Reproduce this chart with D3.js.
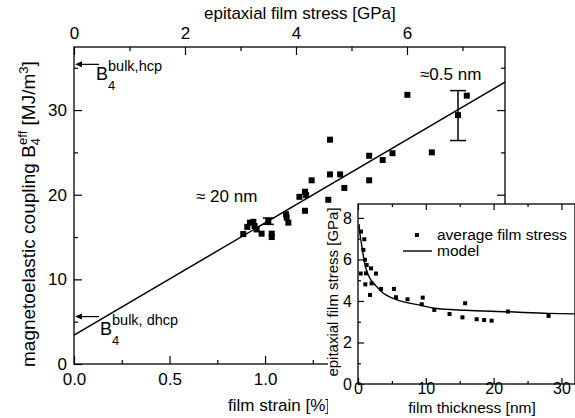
<!DOCTYPE html>
<html lang="en">
<head>
<meta charset="UTF-8">
<title>magnetoelastic coupling vs film strain</title>
<script src="https://cdn.jsdelivr.net/npm/d3@7"></script>
<style>
  body { margin: 0; background: #fff; }
  text { font-family: "Liberation Sans", Arial, Helvetica, sans-serif; fill: #000; }
</style>
</head>
<body>
<div id="graph"></div>
<script>
    // main panel: film strain [%] -> B4eff [MJ/m3]
    var strain   = [0.886, 0.907, 0.921, 0.939, 0.945, 0.956, 0.982, 1.035, 1.035, 1.110,
                    1.113, 1.122, 1.180, 1.209, 1.215, 1.209, 1.244, 1.331, 1.340, 1.340,
                    1.393, 1.415, 1.545, 1.545, 1.616, 1.667, 1.745, 1.873, 2.010, 2.056, 1.017];
    var coupling = [15.35, 16.2, 16.7, 16.8, 16.3, 15.9, 15.4, 15.4, 15.0, 17.7,
                    17.3, 16.7, 19.75, 20.35, 19.95, 18.1, 21.7, 19.4, 26.5, 22.4,
                    22.4, 20.8, 24.6, 21.7, 24.1, 24.9, 31.8, 25.0, 29.4, 31.7, 16.9];

    // error bars (≈20 nm and ≈0.5 nm)
    var errStrain = [1.017, 2.010];
    var errLow    = [16.5, 26.4];
    var errHigh   = [17.25, 32.3];
    var errText   = ["≈ 20 nm", "≈0.5 nm"];

    // linear fit, end points
    var fitStrain = [0, 2.256];
    var fitB      = [3.42, 33.3];

    // bulk values (arrows)
    var bulkB     = [35.4, 5.6];
    var bulkSup   = ["bulk,hcp", "bulk, dhcp"];

    // bottom ticks past 1.0 sit under the inset
    var strainTicks   = [0, 0.5, 1.0];
    var strainMinor   = [0.25, 0.75, 1.25];
    var gpaTicks      = [0, 2, 4, 6];
    var gpaMinor      = [1, 3, 5, 7];
    var couplingTicks = [0, 10, 20, 30];
    var couplingMinor = [5, 15, 25, 35];

    // inset: film thickness [nm] -> epitaxial film stress [GPa]
    var thick  = [0.44, 0.93, 0.79, 1.03, 1.28, 0.40, 1.18, 1.92, 2.65, 1.08,
                  2.00, 1.77, 3.40, 5.30, 5.60, 7.30, 9.54, 9.40, 11.25, 13.5,
                  15.8, 15.4, 17.5, 18.6, 19.7, 22.1, 28.1];
    var stress = [7.34, 6.97, 6.46, 5.98, 5.73, 5.32, 5.33, 5.57, 5.32, 4.80,
                  4.85, 4.29, 4.58, 4.58, 4.18, 4.08, 4.16, 3.84, 3.57, 3.37,
                  3.89, 3.21, 3.12, 3.08, 3.05, 3.49, 3.28];
    var modelThick  = [0.15, 0.3, 0.54, 0.8, 1.03, 1.4, 1.77, 2.3, 2.75, 3.74, 5, 7, 9.1, 11.3, 15.8, 22.1, 28.1, 32];
    var modelStress = [7.7, 7.2, 6.7, 6.15, 5.75, 5.35, 5.09, 4.85, 4.69, 4.37, 4.15, 3.93, 3.8, 3.65, 3.55, 3.48, 3.4, 3.38];

    var thickTicks  = [0, 10, 20, 30];
    var thickMinor  = [5, 15, 25];
    var insetTicks  = [0, 2, 4, 6, 8];
    var insetMinor  = [1, 3, 5, 7];

    var W = 575, H = 418;
    var svg = d3.select("#graph").append("svg").attr("width", W).attr("height", H);

    // ---------- main panel ----------
    var L = 74, R = 505, T = 47, B = 364;
    var x  = d3.scaleLinear().domain([0, 2.256]).range([L, R]);
    var xs = d3.scaleLinear().domain([0, 7.766]).range([L, R]);
    var y  = d3.scaleLinear().domain([0, 37.45]).range([B, T]);

    function ticks(axis, g, vals, size, pad, fmt) {
        g.call(axis.tickValues(vals).tickSize(-size).tickPadding(pad).tickFormat(fmt));
        g.select(".domain").remove();
        g.selectAll("line").attr("stroke", "#000").attr("stroke-width", 1.2);
        g.selectAll("text").attr("font-family", null).style("font-size", "17px").attr("fill", "#000");
        return g;
    }

    ticks(d3.axisBottom(x), svg.append("g").attr("transform", "translate(0," + B + ")"), strainTicks, 8, 9, d3.format(".1f"));
    ticks(d3.axisBottom(x), svg.append("g").attr("transform", "translate(0," + B + ")"), strainMinor, 4, 9, "");
    ticks(d3.axisTop(xs), svg.append("g").attr("transform", "translate(0," + T + ")"), gpaTicks, 8, 8, d3.format("d"));
    ticks(d3.axisTop(xs), svg.append("g").attr("transform", "translate(0," + T + ")"), gpaMinor, 4, 8, "");
    ticks(d3.axisLeft(y), svg.append("g").attr("transform", "translate(" + L + ",0)"), couplingTicks, 8, 7, d3.format("d"));
    ticks(d3.axisLeft(y), svg.append("g").attr("transform", "translate(" + L + ",0)"), couplingMinor, 4, 7, "");
    ticks(d3.axisRight(y), svg.append("g").attr("transform", "translate(" + R + ",0)"), couplingTicks, 8, 7, "");
    ticks(d3.axisRight(y), svg.append("g").attr("transform", "translate(" + R + ",0)"), couplingMinor, 4, 7, "");

    svg.append("rect").attr("x", L).attr("y", T).attr("width", R - L).attr("height", B - T)
        .attr("fill", "none").attr("stroke", "#000").attr("stroke-width", 1.3);

    // fit line
    var fitLine = d3.line().x(function(d) { return x(d[0]); }).y(function(d) { return y(d[1]); });
    svg.append("path")
        .attr("d", fitLine(fitStrain.map(function(s, i) { return [s, fitB[i]]; })))
        .attr("fill", "none").attr("stroke", "#000").attr("stroke-width", 1.5);

    // points
    svg.selectAll("rect.pt").data(strain).enter().append("rect")
        .attr("class", "pt")
        .attr("x", function(d) { return x(d) - 3; })
        .attr("y", function(d, i) { return y(coupling[i]) - 3; })
        .attr("width", 6).attr("height", 6).attr("fill", "#000");

    // error bars
    var capW = [11, 16];
    errStrain.forEach(function(s, i) {
        var g = svg.append("g").attr("stroke", "#000").attr("stroke-width", 1.5);
        g.append("line").attr("x1", x(s)).attr("x2", x(s)).attr("y1", y(errLow[i])).attr("y2", y(errHigh[i]));
        g.append("line").attr("x1", x(s) - capW[i] / 2).attr("x2", x(s) + capW[i] / 2).attr("y1", y(errLow[i])).attr("y2", y(errLow[i]));
        g.append("line").attr("x1", x(s) - capW[i] / 2).attr("x2", x(s) + capW[i] / 2).attr("y1", y(errHigh[i])).attr("y2", y(errHigh[i]));
    });
    svg.append("text").attr("x", 196).attr("y", 202).style("font-size", "17px").text(errText[0]);
    svg.append("text").attr("x", 420).attr("y", 80).style("font-size", "17px").text(errText[1]);

    // bulk arrows + labels
    var labY = [[80, 90, 71], [335, 345, 325]];
    bulkB.forEach(function(b, i) {
        var yy = y(b);
        svg.append("line").attr("x1", L + 5).attr("x2", L + 25).attr("y1", yy).attr("y2", yy)
            .attr("stroke", "#000").attr("stroke-width", 1.2);
        svg.append("path").attr("d", "M" + (L + 1) + "," + yy + "L" + (L + 8) + "," + (yy - 3) + "L" + (L + 8) + "," + (yy + 3) + "Z")
            .attr("fill", "#000");
        var bx = i == 0 ? 96 : 100;
        svg.append("text").attr("x", bx).attr("y", labY[i][0]).style("font-size", "18px").text("B");
        svg.append("text").attr("x", bx + 12).attr("y", labY[i][1]).style("font-size", "13px").text("4");
        svg.append("text").attr("x", bx + 12).attr("y", labY[i][2]).style("font-size", "14.5px").text(bulkSup[i]);
    });

    // axis titles
    svg.append("text").attr("x", 204).attr("y", 18.5).style("font-size", "17px").text("epitaxial film stress [GPa]");
    svg.append("text").attr("x", 228).attr("y", 411).style("font-size", "17px").text("film strain [%]");

    var ylab = svg.append("text").attr("transform", "translate(35,367) rotate(-90)").style("font-size", "19px");
    ylab.append("tspan").text("magnetoelastic coupling B");
    ylab.append("tspan").attr("dy", 5).style("font-size", "13px").text("4");
    ylab.append("tspan").attr("dx", -7).attr("dy", -13).style("font-size", "13px").text("eff");
    ylab.append("tspan").attr("dy", 8).text(" [MJ/m");
    ylab.append("tspan").attr("dy", -7).style("font-size", "13px").text("3");
    ylab.append("tspan").attr("dy", 7).text("]");

    // ---------- inset ----------
    var iL = 358, iR = 575, iT = 204, iB = 384;
    var ix = d3.scaleLinear().domain([0, 32]).range([iL, iR]);
    var iy = d3.scaleLinear().domain([0, 8.67]).range([iB, iT]);

    svg.append("rect").attr("x", 328).attr("y", iT).attr("width", W - 328).attr("height", H - iT).attr("fill", "#fff");

    function iticks(axis, g, vals, size, pad, fmt) {
        ticks(axis, g, vals, size, pad, fmt);
        g.selectAll("text").style("font-size", "16px");
    }
    iticks(d3.axisBottom(ix), svg.append("g").attr("transform", "translate(0," + iB + ")"), thickTicks, 6, -1, d3.format("d"));
    iticks(d3.axisBottom(ix), svg.append("g").attr("transform", "translate(0," + iB + ")"), thickMinor, 3, -1, "");
    iticks(d3.axisTop(ix), svg.append("g").attr("transform", "translate(0," + iT + ")"), thickTicks, 6, 2, "");
    iticks(d3.axisTop(ix), svg.append("g").attr("transform", "translate(0," + iT + ")"), thickMinor, 3, 2, "");
    iticks(d3.axisLeft(iy), svg.append("g").attr("transform", "translate(" + iL + ",0)"), insetTicks, 6, 6, d3.format("d"));
    iticks(d3.axisLeft(iy), svg.append("g").attr("transform", "translate(" + iL + ",0)"), insetMinor, 3, 6, "");

    svg.append("rect").attr("x", iL).attr("y", iT).attr("width", iR - iL).attr("height", iB - iT)
        .attr("fill", "none").attr("stroke", "#000").attr("stroke-width", 1.3);

    var model = d3.line().curve(d3.curveMonotoneX)
        .x(function(d) { return ix(d[0]); }).y(function(d) { return iy(d[1]); });
    svg.append("path")
        .attr("d", model(modelThick.map(function(t, i) { return [t, modelStress[i]]; })))
        .attr("fill", "none").attr("stroke", "#000").attr("stroke-width", 1.4);

    svg.selectAll("rect.ipt").data(thick).enter().append("rect")
        .attr("class", "ipt")
        .attr("x", function(d) { return ix(d) - 2; })
        .attr("y", function(d, i) { return iy(stress[i]) - 2; })
        .attr("width", 4).attr("height", 4).attr("fill", "#000");

    // legend
    svg.append("rect").attr("x", 415).attr("y", 233).attr("width", 4).attr("height", 4).attr("fill", "#000");
    svg.append("text").attr("x", 437).attr("y", 240).style("font-size", "15.5px").text("average film stress");
    svg.append("line").attr("x1", 403).attr("x2", 432).attr("y1", 251).attr("y2", 251)
        .attr("stroke", "#000").attr("stroke-width", 1.4);
    svg.append("text").attr("x", 437).attr("y", 256).style("font-size", "15.5px").text("model");

    svg.append("text").attr("transform", "translate(338,292) rotate(-90)").attr("text-anchor", "middle")
        .style("font-size", "15px").text("epitaxial film stress [GPa]");
    svg.append("text").attr("x", 472).attr("y", 413).attr("text-anchor", "middle")
        .style("font-size", "15.5px").text("film thickness [nm]");
</script>
</body>
</html>
